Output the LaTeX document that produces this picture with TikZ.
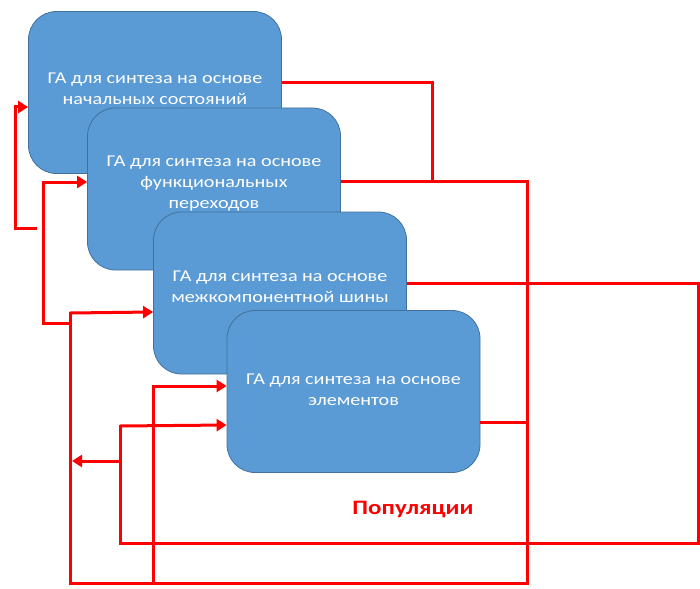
\documentclass[tikz,border=0pt]{standalone}
\usepackage{fontspec}
\setmainfont{Carlito}
\newfontfamily\widefont[FakeStretch=1.22]{Carlito}
\usepackage{xcolor}
\usetikzlibrary{arrows.meta}

\definecolor{gablue}{RGB}{91,155,213}
\definecolor{gaedge}{RGB}{65,113,156}

\tikzset{
    gabox/.style={draw=gaedge, fill=gablue, line width=0.8pt, rounded corners=28pt,
        minimum width=253pt, minimum height=162pt},
    gatext/.style={text=white, align=center, inner sep=0pt,
        font=\widefont\fontsize{16.5}{21}\selectfont},
    wire/.style={red, line width=3pt},
    feed/.style={wire, -{Triangle[length=10pt,width=12pt]}}
}

\begin{document}
\begin{tikzpicture}[x=1pt, y=-1pt]
    \useasboundingbox (0,0) rectangle (700,588);

    % GA blocks
    \node[gabox] (ga1) at (155,92.5) {};
    \node[gatext] (t1) at ([yshift=3.5pt]ga1.center) {ГА для синтеза на основе\\начальных состояний};
    \node[gabox] (ga2) at (214,189) {};
    \node[gatext] (t2) at ([yshift=5pt]ga2.center) {ГА для синтеза на основе\\функциональных\\переходов};
    \node[gabox] (ga3) at (280,293) {};
    \node[gatext] (t3) at ([yshift=6pt]ga3.center) {ГА для синтеза на основе\\межкомпонентной шины};
    \node[gabox] (ga4) at (353.5,391.5) {};
    \node[gatext] (t4) at ([yshift=1.5pt]ga4.center) {ГА для синтеза на основе\\элементов};

    % Label
    \node[red, font=\widefont\fontsize{20.5}{24}\selectfont\bfseries] (pop) at (413,509) {Популяции};

    % Outputs of blocks 1, 2 and 4
    \coordinate (j1) at (432,181);
    \coordinate (j2) at (527,181);
    \draw[wire] ([yshift=9.5pt]ga1.east) -| (j1);
    \draw[wire] ([yshift=8pt]ga2.east) -- (j2) -- (527,583) -- (70,583) -- (70,312);
    \draw[wire] ([yshift=-30.5pt]ga4.east) -- (527,422);

    % Feedback into blocks 3 and 4
    \draw[feed] (70,313) -- ([yshift=-19pt]ga3.west);
    \draw[feed] (153,583) |- ([yshift=5.5pt]ga4.west);

    % Output of block 3
    \draw[wire] ([yshift=10pt]ga3.east) -- (698,283) -- (698,543) -- (120,543) -- (120,425);
    \draw[feed] (120,426) -- ([yshift=-33.5pt]ga4.west);
    \coordinate (back) at (72,461);
    \draw[feed] (120,461) -- (back);

    % Feedback into blocks 1 and 2
    \draw[feed] (70,323) -| (43,182) -- ([yshift=7pt]ga2.west);
    \coordinate (stub) at (37,228);
    \draw[feed] (stub) -| (15,107) -- ([yshift=-14.5pt]ga1.west);
\end{tikzpicture}
\end{document}
